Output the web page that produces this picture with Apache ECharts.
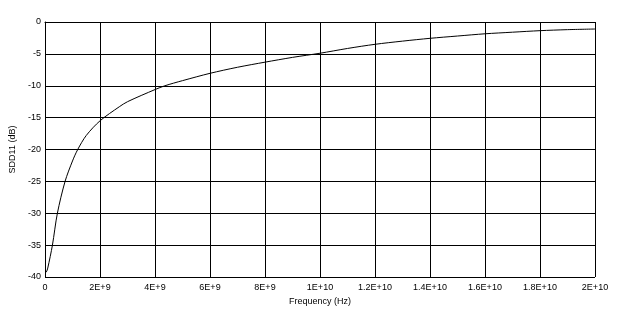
<!DOCTYPE html>
<html>
<head>
<meta charset="utf-8">
<script src="https://cdn.jsdelivr.net/npm/echarts@6/dist/echarts.min.js"></script>
<style>
html,body{margin:0;padding:0;background:#fff;}
#chart{width:623px;height:318px;}
</style>
</head>
<body>
<div id="chart"></div>
<script>
// Frequency (Hz)
var freqs = [0, 0.05e9, 0.1e9, 0.27e9, 0.45e9, 0.73e9, 1.0e9, 1.19e9, 1.5e9, 2.0e9, 2.7e9, 3.0e9, 4.0e9, 4.36e9, 5.0e9, 6.0e9, 7.0e9, 8.0e9, 9.0e9, 10.0e9, 11.0e9, 12.0e9, 13.0e9, 14.0e9, 15.0e9, 16.0e9, 17.0e9, 18.0e9, 19.0e9, 20.0e9];
// SDD11 (dB)
var sdd11 = [-39.3, -39.2, -38.6, -35, -30, -25, -21.8, -20, -17.8, -15.5, -13.3, -12.5, -10.6, -10, -9.2, -8.05, -7.1, -6.3, -5.55, -4.9, -4.15, -3.5, -3.0, -2.56, -2.2, -1.85, -1.6, -1.36, -1.2, -1.1];
var xTickLabels = ['0', '2E+9', '4E+9', '6E+9', '8E+9', '1E+10', '1.2E+10', '1.4E+10', '1.6E+10', '1.8E+10', '2E+10'];
var yTickLabels = ['-40', '-35', '-30', '-25', '-20', '-15', '-10', '-5', '0'];

var data = freqs.map(function (f, i) { return [f, sdd11[i]]; });
var chart = echarts.init(document.getElementById('chart'), null, {renderer: 'canvas'});
var font = 'Liberation Sans, Arial, sans-serif';
chart.setOption({
  animation: false,
  backgroundColor: '#fff',
  grid: {left: 45, right: 28, top: 22, bottom: 41},
  xAxis: {
    type: 'value', min: 0, max: 2e10, interval: 2e9,
    name: 'Frequency (Hz)', nameLocation: 'middle', nameGap: 19,
    nameTextStyle: {color: '#000', fontFamily: font, fontSize: 9},
    axisLine: {show: true, lineStyle: {color: '#000', width: 1}},
    axisTick: {show: false},
    axisLabel: {color: '#000', fontFamily: font, fontSize: 9, margin: 6,
      formatter: function (v) { return xTickLabels[Math.round(v / 2e9)]; }},
    splitLine: {show: true, lineStyle: {color: '#000', width: 1}}
  },
  yAxis: {
    type: 'value', min: -40, max: 0, interval: 5,
    name: 'SDD11 (dB)', nameLocation: 'middle', nameGap: 27,
    nameTextStyle: {color: '#000', fontFamily: font, fontSize: 9},
    axisLine: {show: true, lineStyle: {color: '#000', width: 1}},
    axisTick: {show: false},
    axisLabel: {color: '#000', fontFamily: font, fontSize: 9, margin: 4,
      formatter: function (v) { return yTickLabels[Math.round((v + 40) / 5)]; }},
    splitLine: {show: true, lineStyle: {color: '#000', width: 1}}
  },
  series: [{
    type: 'line', data: data, smooth: 0.3, showSymbol: false,
    lineStyle: {color: '#000', width: 1}
  }]
});
</script>
</body>
</html>
